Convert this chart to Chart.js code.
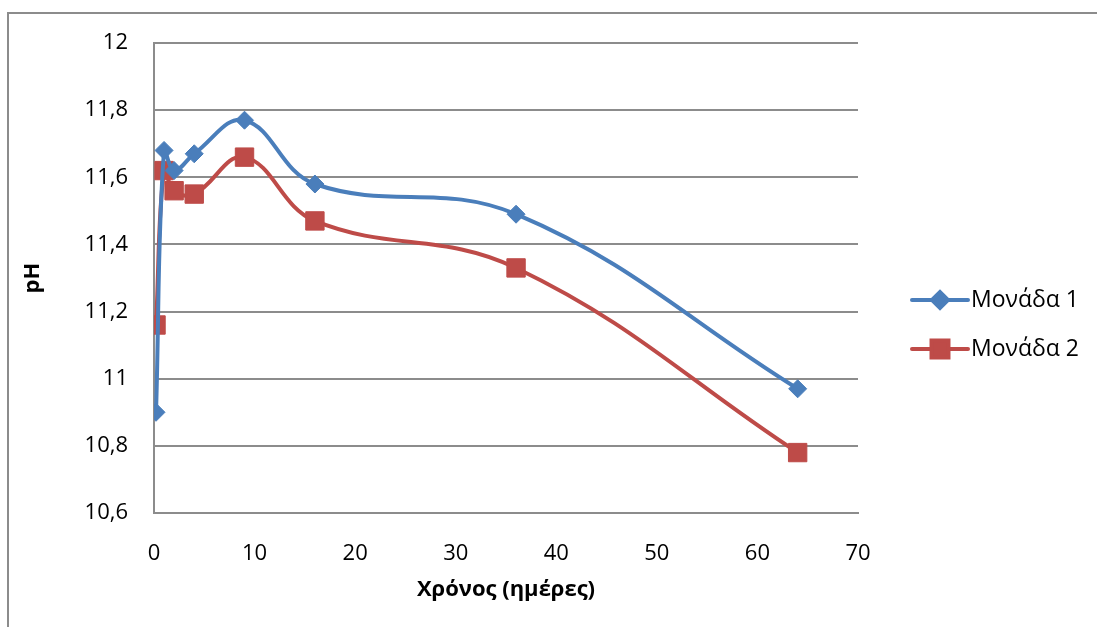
<!DOCTYPE html>
<html>
<head>
<meta charset="utf-8">
<script src="https://cdn.jsdelivr.net/npm/chart.js@4.4.1/dist/chart.umd.min.js"></script>
<style>
  html, body { margin: 0; padding: 0; background: #fff; }
  #wrap { width: 1097px; height: 627px; }
</style>
</head>
<body>
<div id="wrap"><canvas id="myChart" width="1097" height="627"></canvas></div>
<script>
// χρόνος σε ημέρες
const xDays = [0.2, 1, 2, 4, 9, 16, 36, 64];
// pH ανά μονάδα
const monada1 = [10.9, 11.68, 11.62, 11.67, 11.77, 11.58, 11.49, 10.97];
const monada2 = [11.16, 11.62, 11.56, 11.55, 11.66, 11.47, 11.33, 10.78];
const seriesNames = ['Μονάδα 1', 'Μονάδα 2'];
const xTitle = 'Χρόνος (ημέρες)';
const yTitle = 'pH';

const FONT = "'Open Sans', 'DejaVu Sans', sans-serif";

function pares(xs, ys) {
    const out = [];
    for (let i = 0; i < xs.length; i++) {
        out.push({ x: xs[i], y: ys[i] });
    }
    return out;
}

// πλαίσιο γύρω από το γράφημα (κομμένο δεξιά και κάτω)
const plaisio = {
    id: 'plaisio',
    afterDraw(chart) {
        const ctx = chart.ctx;
        ctx.save();
        ctx.strokeStyle = '#8c8c8c';
        ctx.lineWidth = 2;
        ctx.beginPath();
        ctx.moveTo(8, chart.height);
        ctx.lineTo(8, 13);
        ctx.lineTo(chart.width, 13);
        ctx.stroke();
        ctx.restore();
    }
};

// υπόμνημα στα δεξιά, γραμμή με σημάδι
const ypomnima = {
    id: 'ypomnima',
    afterDraw(chart) {
        const ctx = chart.ctx;
        const area = chart.chartArea;
        const x0 = area.right + 54;
        ctx.save();
        chart.data.datasets.forEach(function (ds, i) {
            const y = 300 + i * 49;
            ctx.strokeStyle = ds.borderColor;
            ctx.lineWidth = 4;
            ctx.lineCap = 'round';
            ctx.beginPath();
            ctx.moveTo(x0, y);
            ctx.lineTo(x0 + 56, y);
            ctx.stroke();
            ctx.fillStyle = ds.backgroundColor;
            ctx.strokeStyle = ds.backgroundColor;
            Chart.helpers.drawPoint(ctx, {
                pointStyle: ds.pointStyle,
                radius: ds.legendRadius,
                rotation: 0,
                borderWidth: 1
            }, x0 + 28, y);
            ctx.fillStyle = '#000';
            ctx.font = '23px ' + FONT;
            ctx.textBaseline = 'middle';
            ctx.textAlign = 'left';
            ctx.fillText(ds.label, x0 + 59, y);
        });
        ctx.restore();
    }
};

const dados = {
    datasets: [{
        label: seriesNames[0],
        data: pares(xDays, monada1),
        borderColor: '#4A7EBB',
        backgroundColor: '#4A7EBB',
        borderWidth: 4,
        pointStyle: 'rectRot',
        pointRadius: 9,
        pointBorderWidth: 1,
        legendRadius: 8,
        tension: 0.4
    }, {
        label: seriesNames[1],
        data: pares(xDays, monada2),
        borderColor: '#BE4B48',
        backgroundColor: '#BE4B48',
        borderWidth: 4,
        pointStyle: 'rect',
        pointRadius: 13,
        pointBorderWidth: 1,
        legendRadius: 12,
        tension: 0.4
    }]
};

const config = {
    type: 'line',
    data: dados,
    options: {
        responsive: false,
        animation: false,
        layout: { padding: { top: 43, right: 239, bottom: 0, left: 0 } },
        plugins: {
            legend: { display: false },
            tooltip: { enabled: false }
        },
        scales: {
            x: {
                type: 'linear',
                min: 0,
                max: 70,
                ticks: {
                    stepSize: 10,
                    padding: 20,
                    color: '#000',
                    font: { family: FONT, size: 22 }
                },
                grid: { display: false },
                border: { display: true, color: '#8c8c8c', width: 2 },
                title: {
                    display: true,
                    text: xTitle,
                    color: '#000',
                    font: { family: FONT, size: 22, weight: 'bold' },
                    padding: { top: 0, bottom: 24 }
                },
                afterFit(scale) { scale.height = 114; }
            },
            y: {
                min: 10.6,
                max: 12,
                ticks: {
                    stepSize: 0.2,
                    padding: 26,
                    color: '#000',
                    font: { family: FONT, size: 22 },
                    callback: function (v) {
                        return String(Math.round(v * 10) / 10).replace('.', ',');
                    }
                },
                grid: { color: '#8c8c8c', lineWidth: 2, drawTicks: false },
                border: { display: true, color: '#8c8c8c', width: 2 },
                title: {
                    display: true,
                    text: yTitle,
                    color: '#000',
                    font: { family: FONT, size: 22, weight: 'bold' },
                    padding: { top: 20, bottom: 0 }
                },
                afterFit(scale) { scale.width = 154; }
            }
        }
    },
    plugins: [plaisio, ypomnima]
};

const ctx = document.getElementById('myChart');
const myChart = new Chart(ctx, config);
</script>
</body>
</html>
